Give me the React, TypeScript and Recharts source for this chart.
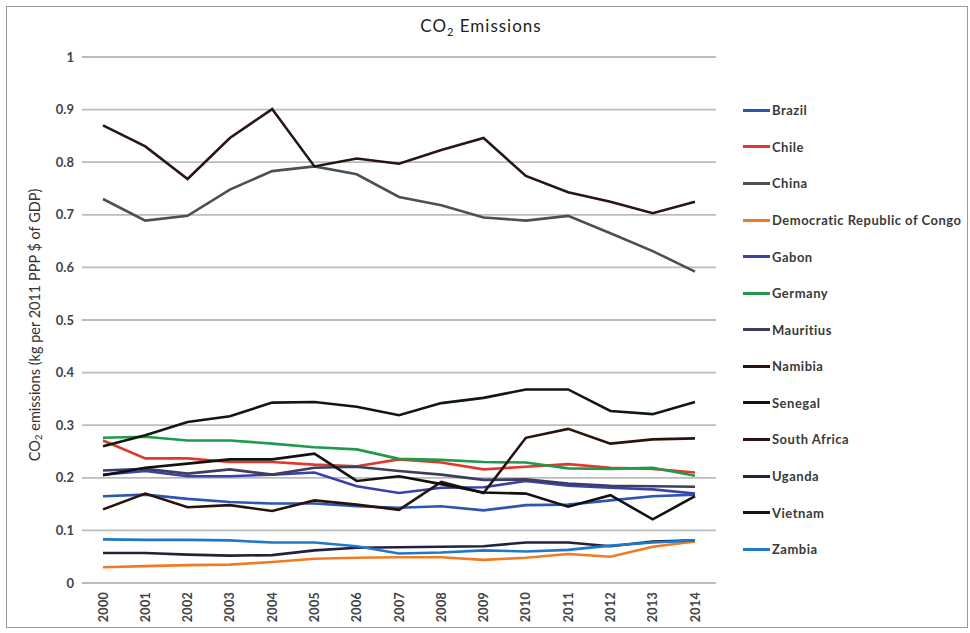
import { LineChart, Line, XAxis, YAxis, CartesianGrid, Label } from 'recharts'

const years = ['2000', '2001', '2002', '2003', '2004', '2005', '2006', '2007', '2008', '2009', '2010', '2011', '2012', '2013', '2014']
const yTicks = [0, 0.1, 0.2, 0.3, 0.4, 0.5, 0.6, 0.7, 0.8, 0.9, 1]

const brazil = [0.165, 0.168, 0.16, 0.154, 0.151, 0.151, 0.146, 0.143, 0.146, 0.138, 0.148, 0.149, 0.157, 0.165, 0.168]
const chile = [0.271, 0.237, 0.237, 0.23, 0.23, 0.225, 0.222, 0.235, 0.229, 0.216, 0.221, 0.226, 0.219, 0.217, 0.21]
const china = [0.73, 0.689, 0.698, 0.748, 0.783, 0.792, 0.777, 0.734, 0.718, 0.695, 0.689, 0.698, 0.665, 0.631, 0.592]
const drc = [0.03, 0.032, 0.034, 0.035, 0.04, 0.046, 0.048, 0.049, 0.049, 0.044, 0.048, 0.055, 0.05, 0.069, 0.079]
const gabon = [0.206, 0.213, 0.203, 0.203, 0.206, 0.21, 0.184, 0.171, 0.181, 0.182, 0.194, 0.185, 0.181, 0.178, 0.17]
const germany = [0.276, 0.278, 0.271, 0.271, 0.265, 0.258, 0.254, 0.236, 0.234, 0.23, 0.229, 0.218, 0.217, 0.219, 0.204]
const mauritius = [0.214, 0.217, 0.208, 0.216, 0.206, 0.219, 0.221, 0.213, 0.206, 0.196, 0.197, 0.189, 0.185, 0.184, 0.183]
const namibia = [0.14, 0.17, 0.144, 0.148, 0.137, 0.157, 0.149, 0.139, 0.192, 0.171, 0.276, 0.293, 0.265, 0.273, 0.275]
const senegal = [0.205, 0.219, 0.227, 0.235, 0.235, 0.246, 0.194, 0.203, 0.188, 0.172, 0.17, 0.145, 0.167, 0.121, 0.165]
const southAfrica = [0.87, 0.83, 0.768, 0.846, 0.901, 0.792, 0.807, 0.797, 0.823, 0.846, 0.774, 0.743, 0.725, 0.703, 0.725]
const uganda = [0.057, 0.057, 0.054, 0.052, 0.053, 0.062, 0.067, 0.068, 0.069, 0.07, 0.077, 0.077, 0.07, 0.079, 0.081]
const vietnam = [0.26, 0.281, 0.306, 0.317, 0.343, 0.344, 0.335, 0.319, 0.342, 0.352, 0.368, 0.368, 0.327, 0.321, 0.344]
const zambia = [0.083, 0.082, 0.082, 0.081, 0.077, 0.077, 0.07, 0.056, 0.058, 0.062, 0.06, 0.063, 0.071, 0.077, 0.081]

const series = [
  { name: 'Brazil', values: brazil, color: '#2d55b4' },
  { name: 'Chile', values: chile, color: '#e0382b' },
  { name: 'China', values: china, color: '#4b5054' },
  { name: 'Democratic Republic of Congo', values: drc, color: '#f27b21' },
  { name: 'Gabon', values: gabon, color: '#3b40aa' },
  { name: 'Germany', values: germany, color: '#1f9a4c' },
  { name: 'Mauritius', values: mauritius, color: '#3b3e5e' },
  { name: 'Namibia', values: namibia, color: '#2a130c' },
  { name: 'Senegal', values: senegal, color: '#111111' },
  { name: 'South Africa', values: southAfrica, color: '#2a1515' },
  { name: 'Uganda', values: uganda, color: '#23213b' },
  { name: 'Vietnam', values: vietnam, color: '#0d1a0d' },
  { name: 'Zambia', values: zambia, color: '#2079c8' },
]

const data = years.map((year, i) => {
  const row: Record<string, string | number> = { year }
  series.forEach(s => { row[s.name] = s.values[i] })
  return row
})

const font = 'Lato, "Open Sans", sans-serif'

function YearTick({ x, y, payload }: any) {
  return (
    <text
      x={x}
      y={y}
      transform={`rotate(-90 ${x} ${y})`}
      textAnchor="end"
      dominantBaseline="central"
      fontSize={12.5}
      fontWeight={700}
      fill="#444"
      fontFamily={font}
      letterSpacing={0.3}
    >
      {payload.value}
    </text>
  )
}

function AxisTitle({ viewBox }: any) {
  const cx = 34
  const cy = viewBox.y + viewBox.height / 2 + 5
  return (
    <text
      x={cx}
      y={cy}
      transform={`rotate(-90 ${cx} ${cy})`}
      textAnchor="middle"
      dominantBaseline="central"
      fontSize={14.5}
      fill="#333"
      fontFamily={font}
    >
      CO<tspan fontSize={10} dy={4}>2</tspan>
      <tspan dy={-4}> emissions (kg per 2011 PPP $ of GDP)</tspan>
    </text>
  )
}

function LegendList() {
  return (
    <div style={{ position: 'absolute', left: 743, top: 92, fontFamily: font, fontSize: 13, fontWeight: 700, color: '#3a3a3a', letterSpacing: 0.5 }}>
      {series.map(s => (
        <div key={s.name} style={{ height: 36.58, display: 'flex', alignItems: 'center', whiteSpace: 'nowrap' }}>
          <span style={{ display: 'inline-block', width: 27, height: 3, background: s.color, marginRight: 2 }} />
          <span>{s.name}</span>
        </div>
      ))}
    </div>
  )
}

export default function App() {
  return (
    <div style={{ position: 'absolute', left: 0, top: 0, width: 970, height: 633, background: '#fff' }}>
      <div style={{ position: 'absolute', left: 6, top: 6, width: 962, height: 622, border: '1px solid #9a9a9a', boxSizing: 'border-box' }} />
      <div style={{ position: 'absolute', left: 0, top: 15, width: 962, textAlign: 'center', fontFamily: font, fontSize: 17, letterSpacing: 1, color: '#222' }}>
        CO<sub style={{ fontSize: 11 }}>2</sub> Emissions
      </div>
      <LineChart
        width={970}
        height={633}
        data={data}
        margin={{ top: 57, right: 254, left: 0, bottom: 5 }}
        style={{ position: 'absolute', left: 0, top: 0 }}
      >
        <CartesianGrid vertical={false} stroke="#bcbcbc" strokeWidth={1.8} />
        <XAxis
          dataKey="year"
          height={45}
          axisLine={false}
          tickLine={false}
          padding={{ left: 21, right: 21 }}
          interval={0}
          tick={<YearTick />}
          tickMargin={3}
        />
        <YAxis
          width={82}
          domain={[0, 1]}
          ticks={yTicks}
          axisLine={false}
          tickLine={false}
          tick={{ fontSize: 13, fill: '#444', fontFamily: font, fontWeight: 700 }}
        >
          <Label content={<AxisTitle />} />
        </YAxis>
        {series.map(s => (
          <Line
            key={s.name}
            type="linear"
            dataKey={s.name}
            stroke={s.color}
            strokeWidth={2.6}
            dot={false}
            activeDot={false}
            isAnimationActive={false}
          />
        ))}
      </LineChart>
      <LegendList />
    </div>
  )
}
